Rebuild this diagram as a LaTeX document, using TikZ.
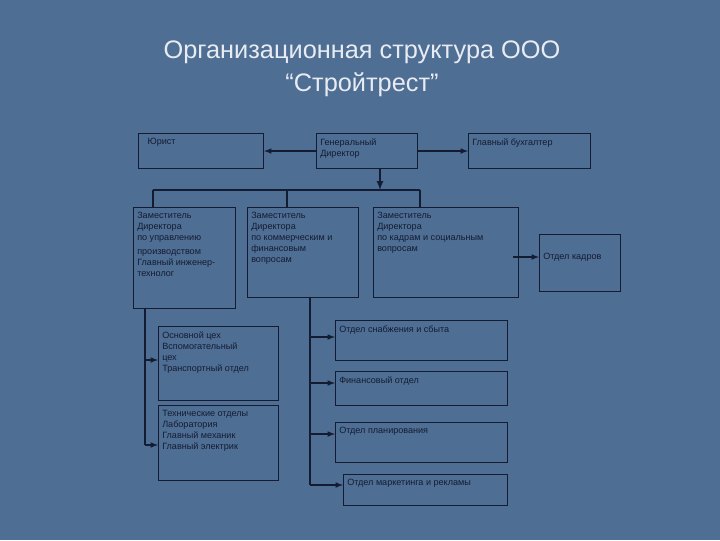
\documentclass[tikz,border=0pt]{standalone}
\usepackage{fontspec}
\setmainfont{Liberation Sans}
\definecolor{bg}{HTML}{4E6E93}
\definecolor{ln}{HTML}{141C33}
\definecolor{tt}{HTML}{E8ECF2}
\begin{document}
\begin{tikzpicture}[x=0.75pt,y=-0.75pt,
 bx/.style={draw=ln,line width=0.8pt,anchor=north west,inner sep=0pt},
 tx/.style={anchor=north west,inner sep=0pt,align=left,text=ln,font=\fontsize{6.8}{8.2}\selectfont},
 ar/.style={draw=ln,line width=0.9pt,-latex},
 ln/.style={draw=ln,line width=0.8pt}]
\fill[bg] (0,0) rectangle (720,540);
\node[text=tt,font=\fontsize{19}{24.5}\selectfont,align=center] (title) at (362,69) {Организационная структура ООО\\“Стройтрест”};
\newcommand\bxn[6]{\node[bx,minimum width={(#4-#2)*0.75pt},minimum height={(#5-#3)*0.75pt}] (#1) at (#2,#3) {};
 \node[tx] (#1t) at ([xshift=3pt,yshift=-4pt]#1.north west) {#6};}
\bxn{yur}{138}{133}{263}{168}{\hspace{4pt}Юрист}
\bxn{gd}{316}{133}{417}{168}{Генеральный\\Директор}
\bxn{gb}{468}{133}{590}{168}{Главный бухгалтер}
\bxn{z1}{133}{207}{235}{308}{Заместитель\\Директора\\по управлению\\[2pt]производством\\Главный инженер-\\технолог}
\bxn{z2}{247}{207}{358}{297}{Заместитель\\Директора\\по коммерческим и\\финансовым\\вопросам}
\bxn{z3}{373}{207}{518}{297}{Заместитель\\Директора\\по кадрам и социальным\\вопросам}
\bxn{ok}{539}{234}{620}{291}{\rule{0pt}{15pt}Отдел кадров}
\bxn{ba}{158}{326}{278}{400}{Основной цех\\Вспомогательный\\цех\\Транспортный отдел}
\bxn{bb}{158}{405}{278}{480}{Технические отделы\\Лаборатория\\Главный механик\\Главный электрик}
\bxn{os}{335}{320}{507}{360}{Отдел снабжения и сбыта}
\bxn{fo}{335}{371}{507}{405}{Финансовый отдел}
\bxn{op}{335}{422}{507}{462}{Отдел планирования}
\bxn{om}{343}{474}{507}{505}{Отдел маркетинга и рекламы}
\draw[ar] (gd.west) -- (yur.east);
\draw[ar] (gd.east) -- (gb.west);
\coordinate (bus) at (380,190);
\draw[ar,line width=1.3pt] (380,168) -- (bus);
\draw[ln] (153,190) -- (420,190);
\draw[ln] (153,190) -- (153,207);
\draw[ln] (287,190) -- (287,207);
\draw[ln] (420,190) -- (420,207);
\draw[ar] (513,257) -- (ok.west |- 0,257);
\draw[ln] (145,308) -- (145,445);
\draw[ar] (145,360) -- (158,360);
\draw[ar] (145,445) -- (158,445);
\draw[ln] (310,297) -- (310,485);
\draw[ar] (310,337) -- (335,337);
\draw[ar] (310,383) -- (335,383);
\draw[ar] (310,434) -- (335,434);
\draw[ar] (310,485) -- (343,485);
\end{tikzpicture}
\end{document}
